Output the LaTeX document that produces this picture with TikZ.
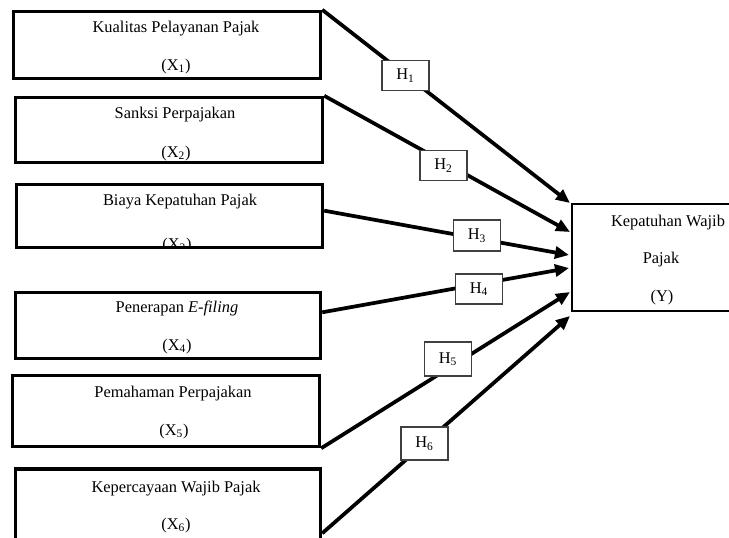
\documentclass[tikz,border=0pt]{standalone}
\usepackage{fontspec}
\setmainfont{Liberation Serif}
\usetikzlibrary{arrows.meta,calc}
\begin{document}
\begin{tikzpicture}[x=0.75pt,y=-0.75pt,
  varbox/.style={draw,line width=2.6pt,rectangle,inner sep=0pt},
  ybox/.style={draw,line width=2pt,rectangle,inner sep=0pt},
  txt/.style={inner sep=0pt,anchor=base,font=\fontsize{12.3pt}{14pt}\selectfont},
  hbox/.style={draw=black!75,line width=0.8pt,fill=white,rectangle,inner sep=0pt,
     minimum width=47*0.75pt,minimum height=30*0.75pt,font=\fontsize{12.3pt}{14pt}\selectfont},
  conn/.style={line width=2.8pt,-{Triangle[length=10.5pt,width=9pt]}}]
\useasboundingbox (0,0) rectangle (729,537);
% variable boxes
\node[varbox,minimum width=307*0.75pt,minimum height=67*0.75pt] (b1) at (167,45) {};
\node[varbox,minimum width=307*0.75pt,minimum height=65*0.75pt] (b2) at (169,130) {};
\node[varbox,minimum width=306*0.75pt,minimum height=63*0.75pt] (b3) at (169.5,216) {};
\node[varbox,minimum width=305*0.75pt,minimum height=66*0.75pt] (b4) at (168,325.5) {};
\node[varbox,minimum width=307*0.75pt,minimum height=71*0.75pt] (b5) at (166,411) {};
\node[varbox,minimum width=305*0.75pt,minimum height=76*0.75pt] (b6) at (168,507) {};
\node[ybox,minimum width=166*0.75pt,minimum height=107*0.75pt] (y) at (655,257.5) {};
% texts
\node[txt] (t1a) at (176,32.5) {Kualitas Pelayanan Pajak};
\node[txt] (t1b) at (176,70.5) {(X\textsubscript{1})};
\node[txt] (t2a) at (175,118.5) {Sanksi Perpajakan};
\node[txt] (t2b) at (176,157.5) {(X\textsubscript{2})};
\node[txt] (t3a) at (180,205.5) {Biaya Kepatuhan Pajak};
\begin{scope}
\clip ($(b3.north west)+(2,2)$) rectangle ($(b3.south east)+(-2,-1.5)$);
\node[txt] (t3b) at (177,249.5) {(X\textsubscript{3})};
\end{scope}
\node[txt] (t4a) at (177,312.5) {Penerapan \textit{E-filing}};
\node[txt] (t4b) at (177,350.5) {(X\textsubscript{4})};
\node[txt] (t5a) at (173,397.5) {Pemahaman Perpajakan};
\node[txt] (t5b) at (174,435.5) {(X\textsubscript{5})};
\node[txt] (t6a) at (176,492.5) {Kepercayaan Wajib Pajak};
\node[txt] (t6b) at (176,529.5) {(X\textsubscript{6})};
\node[txt] (ya) at (668,226.5) {Kepatuhan Wajib};
\node[txt] (yb) at (661,263.5) {Pajak};
\node[txt] (yc) at (662,301.5) {(Y)};
% arrow ends
\coordinate (e1) at (570,203);
\coordinate (e2) at (570,232);
\coordinate (e3) at (569,255);
\coordinate (e4) at (569,268);
\coordinate (e5) at (570,292);
\coordinate (e6) at (570,316);
\coordinate (s3) at ($(b3.north east)!0.42!(b3.south east)$);
\coordinate (s4) at ($(b4.north east)!0.31!(b4.south east)$);
\coordinate (s6) at ($(b6.north east)+(0,66)$);
\draw[conn] (b1.north east) -- (e1);
\draw[conn] (b2.north east) -- (e2);
\draw[conn] (s3) -- (e3);
\draw[conn] (s4) -- (e4);
\draw[conn] (b5.south east) -- (e5);
\draw[conn] (s6) -- (e6);
% hypothesis labels
\node[hbox] (h1) at (405.5,75.5) {H\textsubscript{1}};
\node[hbox] (h2) at (443.5,165.5) {H\textsubscript{2}};
\node[hbox,minimum height=31*0.75pt] (h3) at (477,235.5) {H\textsubscript{3}};
\node[hbox] (h4) at (479,289) {H\textsubscript{4}};
\node[hbox,minimum height=34*0.75pt] (h5) at (448,359) {H\textsubscript{5}};
\node[hbox,minimum height=33*0.75pt] (h6) at (424.5,443.5) {H\textsubscript{6}};
\end{tikzpicture}
\end{document}
